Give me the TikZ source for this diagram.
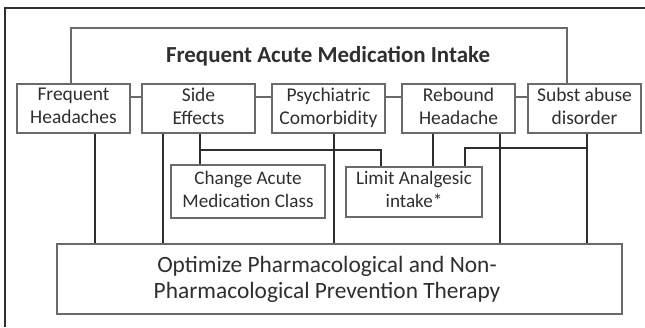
\documentclass[tikz,border=0pt]{standalone}
\usepackage{fontspec}
\setmainfont{Carlito}
\usetikzlibrary{shadows}
\definecolor{txt}{HTML}{2F2F2F}
\definecolor{ln}{HTML}{2E2E2E}
\definecolor{bx}{HTML}{6A6A6A}
\newlength\mywa
\newlength\mywb
\newlength\mywc
\begin{document}%
% fit font sizes to the measured widths of the reference
\settowidth\mywa{\fontsize{10}{12}\selectfont Headaches}%
\settowidth\mywb{\fontsize{10}{12}\selectfont Subst abuse}%
\settowidth\mywc{\fontsize{10}{12}\selectfont Comorbidity}%
\pgfmathsetmacro\rowsz{10*(85.7+95.7+98)/(\mywa+\mywb+\mywc)}%
\settowidth\mywa{\fontsize{10}{12}\selectfont\bfseries Frequent Acute Medication Intake}%
\pgfmathsetmacro\titlesz{10*324/\mywa}%
\settowidth\mywa{\fontsize{10}{12}\selectfont Optimize Pharmacological and Non-}%
\settowidth\mywb{\fontsize{10}{12}\selectfont Pharmacological Prevention Therapy}%
\pgfmathsetmacro\optsz{10*(340+346)/(\mywa+\mywb)}%
\settowidth\mywa{\fontsize{10}{12}\selectfont Medication Class}%
\settowidth\mywb{\fontsize{10}{12}\selectfont Limit Analgesic}%
\pgfmathsetmacro\smallsz{10*(130+117)/(\mywa+\mywb)}%
\begin{tikzpicture}[x=1pt,y=-1pt,
  box/.style={draw=bx, line width=1.2pt, fill=white, text=txt, align=center, inner sep=0pt,
    font=\fontsize{\rowsz}{23}\selectfont,
    execute at begin node={\rule{0pt}{19pt}},
    execute at end node={\rule[-5pt]{0pt}{5pt}},
    drop shadow={shadow xshift=1.2pt, shadow yshift=-1.2pt, opacity=0.35, fill=gray}},
  plainbox/.style={draw=bx, line width=1.2pt, fill=white, inner sep=0pt,
    drop shadow={shadow xshift=1.2pt, shadow yshift=-1.2pt, opacity=0.35, fill=gray}},
  conn/.style={draw=ln, line width=1.6pt},
  thin/.style={draw=bx, line width=1.3pt},
  ]
\useasboundingbox (0,0) rectangle (645,327);
\fill[white] (0,0) rectangle (645,327);
\draw[ln, line width=1.6pt] (5,327) -- (5,8) -- (645,8);

\node[box, minimum width=113pt, minimum height=49pt] (fh) at (73.5,108.5) {Frequent\\Headaches};
\node[box, minimum width=113pt, minimum height=49pt] (se) at (198.5,108.5) {Side\\Effects};
\node[box, minimum width=113pt, minimum height=49pt] (pc) at (328.5,108.5) {Psychiatric\\Comorbidity};
\node[box, minimum width=113pt, minimum height=49pt] (rh) at (458.5,108.5) {Rebound\\Headache};
\node[box, minimum width=113pt, minimum height=49pt] (sa) at (584.5,108.5) {Subst abuse\\disorder};

\node[box, minimum width=154pt, minimum height=53pt, font=\fontsize{\smallsz}{23}\selectfont] (ca) at (248,191.5) {Change Acute\\Medication Class};
\node[box, minimum width=136pt, minimum height=50pt, font=\fontsize{\smallsz}{23}\selectfont] (la) at (414,192) {Limit Analgesic\\intake*};

\node[plainbox, minimum width=565pt, minimum height=70pt] (op) at (339.5,279) {};
\node[text=txt, align=center, inner sep=0pt, font=\fontsize{\optsz}{26}\selectfont] (optext) at (327,279)
  {Optimize Pharmacological and Non-\\Pharmacological Prevention Therapy};

\node[text=txt, inner sep=0pt, anchor=base, font=\fontsize{\titlesz}{25}\selectfont\bfseries] (title) at (328,62) {Frequent Acute Medication Intake};

% bracket around title
\coordinate (tl) at (71,28);
\coordinate (tr) at (567,28);
\draw[thin] (fh.north -| tl) -- (tl) -- (tr) -- (sa.north -| tr);

% links between row boxes
\draw[thin] ([yshift=11.5pt]fh.east) -- ([yshift=11.5pt]se.west);
\draw[thin] ([yshift=11.5pt]se.east) -- ([yshift=11.5pt]pc.west);
\draw[thin] ([yshift=11.5pt]pc.east) -- ([yshift=11.5pt]rh.west);
\draw[thin] ([yshift=11.5pt]rh.east) -- ([yshift=11.5pt]sa.west);

% verticals to the prevention box
\draw[conn] ([xshift=21.5pt]fh.south) -- ([xshift=21.5pt]fh.south |- op.north);
\draw[conn] ([xshift=-35.5pt]se.south) -- ([xshift=-35.5pt]se.south |- op.north);
\draw[conn] ([xshift=5.5pt]pc.south) -- ([xshift=5.5pt]pc.south |- op.north);
\draw[conn] ([xshift=41.5pt]rh.south) -- ([xshift=41.5pt]rh.south |- op.north);
\draw[conn] ([xshift=2.5pt]sa.south) -- ([xshift=2.5pt]sa.south |- op.north);

% to the two middle boxes
\draw[conn] ([xshift=1.5pt]se.south) -- ([xshift=1.5pt]se.south |- ca.north);
\coordinate (h1) at (0,150);
\draw[conn] ([xshift=1.5pt]se.south |- h1) -- ([xshift=-33pt]la.north |- h1) -- ([xshift=-33pt]la.north);
\draw[conn] ([xshift=-25.5pt]rh.south) -- ([xshift=-25.5pt]rh.south |- la.north);
\coordinate (h2) at (0,148);
\draw[conn] ([xshift=2.5pt]sa.south |- h2) -- ([xshift=51pt]la.north |- h2) -- ([xshift=51pt]la.north);
\end{tikzpicture}%
\end{document}
